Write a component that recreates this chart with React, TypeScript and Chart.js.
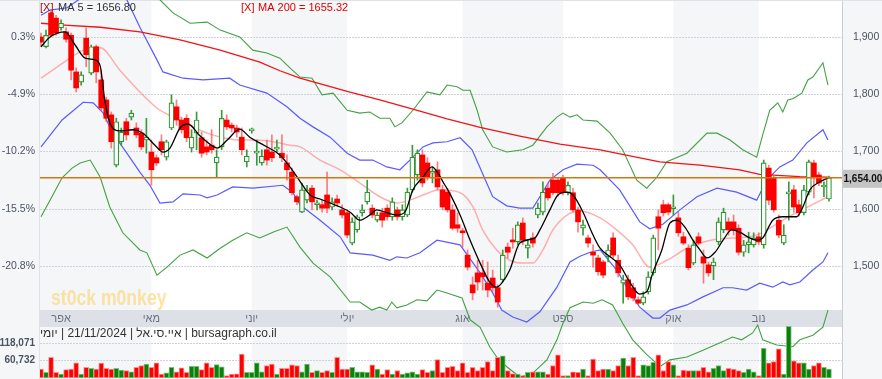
import React, { useEffect, useRef } from 'react';
import { Chart, registerables } from 'chart.js';

Chart.register(...registerables);

const FAMILY = '"Liberation Sans", Arial, Helvetica, sans-serif';

// ---- daily candles (index 0 = first session shown) ----
const opens = [
  1900, 1883, 1942, 1933, 1916, 1909, 1903, 1839, 1821, 1898,
  1837, 1883, 1825, 1790, 1764, 1676, 1717, 1752, 1760, 1741,
  1732, 1720, 1699, 1689, 1717, 1690, 1741, 1778, 1755, 1758,
  1706, 1732, 1724, 1708, 1711, 1680, 1708, 1755, 1746, 1741,
  1725, 1682, 1736, 1697, 1680, 1703, 1699, 1704, 1697, 1680,
  1664, 1621, 1594, 1615, 1636, 1607, 1607, 1624, 1603, 1617,
  1598, 1593, 1540, 1563, 1593, 1612, 1601, 1580, 1593, 1601,
  1586, 1598, 1586, 1589, 1633, 1659, 1694, 1680, 1662, 1668,
  1633, 1629, 1598, 1572, 1559, 1519, 1467, 1488, 1488, 1470,
  1479, 1462, 1476, 1533, 1545, 1542, 1575, 1531, 1549, 1589,
  1594, 1636, 1650, 1650, 1654, 1628, 1628, 1598, 1566, 1549,
  1524, 1514, 1507, 1516, 1549, 1510, 1470, 1476, 1462, 1441,
  1435, 1455, 1488, 1586, 1607, 1607, 1600, 1584, 1551, 1531,
  1505, 1551, 1516, 1502, 1500, 1542, 1563, 1577, 1577, 1566,
  1524, 1537, 1537, 1551, 1537, 1671, 1654, 1580, 1540, 1626,
  1633, 1607, 1593, 1629, 1680, 1659, 1638, 1617,
];
const highs = [
  1907, 1912, 1947, 1938, 1930, 1916, 1907, 1846, 1839, 1916,
  1886, 1886, 1842, 1795, 1769, 1758, 1741, 1758, 1772, 1750,
  1738, 1758, 1720, 1694, 1729, 1720, 1799, 1790, 1760, 1764,
  1738, 1769, 1734, 1720, 1738, 1703, 1772, 1764, 1750, 1746,
  1741, 1703, 1741, 1720, 1703, 1720, 1729, 1720, 1729, 1694,
  1671, 1624, 1645, 1641, 1641, 1615, 1615, 1664, 1619, 1624,
  1607, 1598, 1584, 1589, 1607, 1650, 1607, 1594, 1601, 1607,
  1619, 1603, 1607, 1636, 1711, 1703, 1703, 1689, 1673, 1682,
  1641, 1636, 1607, 1593, 1566, 1528, 1481, 1510, 1510, 1507,
  1493, 1467, 1528, 1540, 1566, 1577, 1584, 1545, 1558, 1610,
  1647, 1645, 1662, 1655, 1659, 1647, 1636, 1603, 1580, 1554,
  1537, 1519, 1510, 1537, 1558, 1519, 1484, 1484, 1470, 1446,
  1455, 1490, 1554, 1598, 1615, 1610, 1624, 1594, 1559, 1537,
  1545, 1558, 1528, 1507, 1514, 1584, 1601, 1584, 1589, 1572,
  1545, 1559, 1558, 1558, 1685, 1676, 1659, 1589, 1572, 1647,
  1641, 1615, 1641, 1685, 1685, 1664, 1647, 1657,
];
const lows = [
  1883, 1881, 1900, 1903, 1912, 1891, 1825, 1804, 1816, 1848,
  1834, 1820, 1772, 1752, 1706, 1673, 1711, 1720, 1755, 1724,
  1703, 1697, 1641, 1675, 1694, 1685, 1738, 1746, 1732, 1717,
  1699, 1703, 1690, 1694, 1697, 1655, 1703, 1738, 1734, 1725,
  1694, 1673, 1732, 1676, 1676, 1676, 1682, 1699, 1682, 1650,
  1624, 1607, 1593, 1610, 1598, 1598, 1594, 1593, 1598, 1605,
  1584, 1549, 1537, 1559, 1587, 1608, 1584, 1577, 1568, 1580,
  1580, 1580, 1580, 1586, 1629, 1650, 1638, 1650, 1645, 1633,
  1598, 1594, 1563, 1559, 1533, 1493, 1441, 1458, 1458, 1446,
  1455, 1428, 1472, 1514, 1531, 1537, 1537, 1514, 1533, 1584,
  1589, 1615, 1624, 1622, 1624, 1624, 1594, 1559, 1554, 1533,
  1498, 1484, 1479, 1507, 1514, 1481, 1435, 1441, 1439, 1432,
  1432, 1451, 1484, 1528, 1587, 1589, 1589, 1552, 1537, 1493,
  1502, 1537, 1470, 1482, 1476, 1537, 1558, 1554, 1554, 1519,
  1517, 1523, 1533, 1537, 1531, 1607, 1594, 1549, 1537, 1580,
  1594, 1587, 1589, 1624, 1619, 1640, 1621, 1613,
];
const closes = [
  1891, 1903, 1903, 1907, 1924, 1896, 1842, 1811, 1834, 1869,
  1883, 1839, 1776, 1758, 1717, 1752, 1734, 1729, 1767, 1729,
  1708, 1725, 1668, 1680, 1703, 1717, 1785, 1755, 1738, 1724,
  1725, 1755, 1697, 1699, 1703, 1690, 1758, 1743, 1741, 1734,
  1703, 1692, 1738, 1699, 1692, 1685, 1689, 1706, 1689, 1668,
  1628, 1612, 1633, 1633, 1612, 1610, 1601, 1601, 1612, 1610,
  1589, 1554, 1577, 1586, 1598, 1629, 1589, 1589, 1580, 1586,
  1612, 1586, 1598, 1629, 1690, 1697, 1645, 1655, 1664, 1638,
  1603, 1598, 1566, 1566, 1558, 1498, 1453, 1472, 1481, 1458,
  1462, 1437, 1519, 1524, 1542, 1572, 1545, 1537, 1540, 1601,
  1629, 1619, 1628, 1628, 1628, 1641, 1598, 1577, 1572, 1540,
  1519, 1490, 1484, 1528, 1519, 1488, 1476, 1446, 1444, 1435,
  1446, 1481, 1549, 1566, 1593, 1594, 1603, 1558, 1540, 1497,
  1537, 1540, 1505, 1488, 1507, 1577, 1594, 1563, 1563, 1524,
  1537, 1542, 1549, 1542, 1680, 1615, 1598, 1554, 1554, 1629,
  1603, 1593, 1633, 1682, 1655, 1645, 1641, 1654,
];
const volumes = [
  30000, 19000, 70000, 19000, 13000, 28000, 30000, 51000, 13000, 36000,
  33000, 30000, 50000, 33000, 30000, 33000, 27000, 25000, 21000, 36000,
  42000, 47000, 36000, 51000, 13000, 17000, 36000, 21000, 34000, 19000,
  39000, 39000, 28000, 51000, 36000, 45000, 38000, 8000, 13000, 14000,
  81000, 19000, 19000, 51000, 21000, 42000, 47000, 13000, 33000, 33000,
  44000, 42000, 21000, 47000, 19000, 25000, 19000, 25000, 19000, 70000,
  30000, 30000, 36000, 21000, 21000, 19000, 44000, 30000, 13000, 28000,
  13000, 25000, 13000, 17000, 21000, 13000, 28000, 19000, 25000, 62000,
  19000, 36000, 39000, 25000, 51000, 19000, 36000, 25000, 36000, 55000,
  25000, 70000, 75000, 25000, 15000, 13000, 8000, 19000, 21000, 21000,
  21000, 13000, 42000, 78000, 8000, 8000, 21000, 19000, 30000, 8000,
  64000, 25000, 30000, 30000, 25000, 42000, 67000, 42000, 70000, 8000,
  44000, 42000, 53000, 78000, 25000, 55000, 44000, 8000, 27000, 25000,
  25000, 25000, 36000, 21000, 33000, 42000, 25000, 33000, 30000, 25000,
  19000, 30000, 21000, 8000, 100000, 51000, 55000, 98000, 13000, 174000,
  58000, 51000, 51000, 30000, 42000, 51000, 36000, 30000,
];

// ---- indicator lines, [session index, price] ----
const ma5Pts = [[0,1883],[1.8,1900],[4.8,1909],[6.8,1886],[8.8,1863],[10.8,1860],[11.8,1849],[12.7,1790],[13.7,1750],[15.7,1736],[18.3,1738],[20.3,1732],[22.7,1711],[24.3,1699],[25.7,1706],[27.7,1741],[29.3,1748],[31.7,1727],[34.1,1710],[35.1,1706],[37.1,1720],[39.6,1739],[41.6,1725],[44.6,1710],[47.6,1694],[49.6,1673],[51.6,1648],[53.6,1624],[55.6,1617],[57.6,1610],[59.6,1603],[61.6,1594],[63.5,1580],[65.5,1589],[66.9,1598],[68.9,1593],[70.9,1589],[72.5,1594],[74.1,1633],[76.1,1655],[77.9,1673],[79.1,1662],[80.1,1647],[81.5,1626],[83.5,1589],[85.5,1545],[87.5,1505],[89.4,1472],[90.8,1463],[91.8,1470],[93.4,1493],[95.4,1540],[98.4,1549],[99.4,1563],[101.4,1598],[103,1624],[104.8,1629],[106,1624],[108,1594],[110,1554],[111.4,1531],[113.4,1516],[115.3,1502],[117.3,1472],[119.3,1451],[120.7,1455],[121.9,1488],[123.7,1528],[125.3,1575],[126.7,1580],[128.3,1568],[129.9,1545],[131.3,1528],[132.7,1514],[134.3,1524],[135.9,1545],[137.6,1563],[139.2,1559],[141.2,1549],[142.6,1545],[143.8,1549],[145.8,1580],[147.8,1586],[150.6,1586],[151.8,1603],[153.2,1633],[155.2,1647],[156.8,1654]];
const ma20Pts = [[0,1828],[1.8,1839],[5.8,1863],[8.4,1877],[11.8,1881],[15.7,1842],[19.7,1804],[23.1,1776],[26.3,1760],[29.7,1746],[33.1,1732],[36.3,1724],[39.6,1720],[43,1720],[46.2,1717],[49.6,1711],[51.6,1708],[55.6,1685],[59.6,1668],[63.5,1645],[67.5,1621],[70.9,1610],[73.5,1615],[76.1,1624],[79.5,1633],[83.5,1628],[86.1,1603],[88,1563],[90.8,1528],[93.4,1510],[96,1505],[98,1505],[100,1528],[102,1563],[104.8,1589],[107.4,1596],[111.4,1584],[114.7,1563],[117.9,1537],[121.3,1498],[124.7,1510],[128.7,1531],[131.3,1540],[134.7,1547],[137.8,1549],[141.2,1551],[143.2,1556],[145.2,1566],[149.2,1587],[153.2,1605],[156.8,1621]];
const ma200Pts = [[0,1924],[3.8,1921],[11.8,1917],[19.7,1909],[27.7,1895],[35.7,1877],[43.6,1856],[47.6,1841],[51.6,1828],[61,1805],[67.5,1790],[74.1,1774],[80.9,1757],[87.5,1742],[95.4,1727],[103.4,1713],[111.4,1703],[123.3,1682],[131.3,1676],[139.2,1668],[143.2,1660],[151.2,1656],[156.8,1655]];
const bandUpPts = [[0,1938],[1.8,1947],[5.2,1951],[8.8,1973],[12.7,1999],[15.7,1982],[17.1,1965],[19.7,1917],[23.1,1860],[24.3,1839],[28.3,1828],[32.3,1825],[37.6,1828],[39.6,1816],[45,1802],[49,1778],[51.6,1758],[54.2,1743],[57.6,1725],[61,1697],[63.5,1685],[66.1,1685],[68.9,1673],[71.5,1668],[73.5,1685],[76.1,1708],[78.1,1715],[80.9,1717],[83.5,1724],[85.9,1703],[87.5,1671],[90,1621],[92.8,1605],[95.4,1601],[98,1601],[99.4,1621],[101.4,1650],[104,1668],[106.8,1678],[110,1676],[111.4,1668],[115.3,1633],[119.3,1577],[121.3,1565],[123.9,1573],[127.3,1598],[130.7,1621],[134.7,1636],[138.6,1629],[142.6,1615],[144.6,1650],[147.2,1673],[149.8,1685],[152.6,1715],[155.8,1738],[156.8,1720]];
const bandLoPts = [[0,1708],[4.2,1755],[8.4,1786],[10.4,1785],[12.4,1767],[14.3,1732],[17.1,1697],[19.7,1664],[21.7,1641],[23.7,1610],[26.3,1612],[28.3,1626],[31.7,1624],[33.1,1619],[35.1,1624],[38.2,1638],[42.2,1636],[48.2,1641],[50.2,1628],[51.6,1607],[55.6,1580],[59.6,1551],[61.6,1523],[66.1,1519],[69.5,1510],[70.9,1516],[72.9,1514],[75.5,1523],[78.9,1545],[83.5,1537],[87.5,1488],[90,1453],[91.8,1423],[94,1411],[96.8,1402],[99.4,1420],[102.8,1463],[105.4,1507],[107.4,1517],[109.4,1524],[111.4,1528],[114.7,1493],[116.7,1463],[119.3,1428],[121.9,1409],[123.3,1409],[125.3,1423],[128.7,1432],[131.9,1446],[135.9,1462],[137.8,1462],[140.6,1458],[143.2,1470],[145.8,1463],[147.8,1472],[149.2,1467],[151.2,1472],[153.8,1493],[155.8,1507],[156.8,1523]];
const outerUpPts = [[0,1991],[7.8,2026],[13.7,2043],[19.7,2008],[23.7,1965],[26.3,1942],[29.7,1924],[33.1,1926],[35.7,1912],[39.6,1900],[42.2,1877],[45,1872],[47.6,1863],[49.6,1846],[51.6,1830],[54,1828],[56,1799],[58.2,1802],[61,1772],[63.5,1767],[65.5,1769],[67.5,1758],[69.5,1758],[70.5,1743],[71.9,1750],[74.1,1772],[76.9,1804],[79.5,1799],[80.9,1816],[82.9,1813],[84.1,1807],[85.5,1807],[86.9,1772],[88,1738],[90,1708],[92.8,1699],[96,1703],[98,1711],[100.8,1743],[102.8,1760],[104,1767],[105.4,1760],[106.8,1764],[108,1755],[110.8,1753],[113.4,1732],[115.9,1703],[118.7,1650],[120.7,1636],[122.7,1655],[124.7,1682],[128.7,1697],[132.7,1732],[134.7,1732],[137.3,1720],[139.8,1703],[142.6,1690],[143.8,1729],[145.2,1772],[146.8,1785],[147.8,1769],[148.8,1790],[149.8,1792],[151.6,1802],[152.8,1825],[153.8,1830],[155.8,1855],[156.8,1816]];
const outerLoPts = [[0,1586],[1.8,1615],[4.2,1654],[6.2,1671],[7.8,1680],[9.8,1685],[11.8,1655],[13.7,1603],[16.3,1558],[19.7,1528],[21.1,1523],[23.1,1484],[25.1,1498],[27.7,1519],[30.3,1528],[33.1,1514],[35.7,1531],[38.2,1545],[41,1558],[43.6,1549],[46.2,1559],[49,1568],[51.6,1533],[54.2,1505],[57.6,1481],[61.6,1437],[63.5,1437],[65.9,1423],[67.5,1428],[68.9,1423],[69.9,1437],[70.9,1427],[72.9,1432],[74.9,1441],[76.9,1439],[78.9,1458],[80.1,1455],[83.9,1444],[85.5,1406],[87.5,1393],[89.4,1359],[90.8,1341],[92.8,1324],[95.4,1306],[98,1313],[100.8,1336],[102.8,1371],[104,1400],[105.4,1427],[108,1437],[110,1435],[111.8,1441],[113.9,1432],[115.9,1400],[117.9,1371],[120.7,1345],[121.9,1336],[123.3,1324],[125.3,1336],[128.7,1341],[131.9,1353],[135.3,1366],[137.8,1376],[139.6,1371],[141.8,1383],[142.8,1397],[143.8,1371],[146.6,1362],[149.8,1359],[151.2,1371],[153.8,1379],[155.8,1393],[156.8,1423]];

// ---- axes / labels ----
const monthStarts = [4, 22, 42, 61, 84, 104, 126, 143];
const monthLabels = ['אפר', 'מאי', 'יוני', 'יולי', 'אוג', 'ספט', 'אוק', 'נוב'];
const priceTicks = [1900, 1800, 1700, 1600, 1500];
const priceTickLabels = ['1,900', '1,800', '1,700', '1,600', '1,500'];
const pctTickLabels = ['0.3%', '-4.9%', '-10.2%', '-15.5%', '-20.8%'];
const volTicks = [118071, 60732];
const volTickLabels = ['118,071', '60,732'];
const legendMA5 = 'MA 5 = 1656.80';
const legendMA200 = 'MA 200 = 1655.32';
// right-to-left info line (read right to left: site | symbol | date | period)
const infoText = 'bursagraph.co.il | איי.סי.אל | 21/11/2024 | יומי';
const watermark = 'st0ck m0nkey';

const X_MIN = -0.2;
const X_MAX = 159.6;
const P_MIN = 1302.6;
const P_MAX = 1964.6;
const V_MIN = -3400;
const V_MAX = 1274900;

const N = closes.length;
const isUp = (i: number) => closes[i] >= opens[i];
const toPts = (arr: number[][]) => arr.map(([x, y]) => ({ x, y }));
const volAsPrice = (v: number) => P_MIN + ((v - V_MIN) / (V_MAX - V_MIN)) * (P_MAX - P_MIN);
const leftTickValues = [...priceTicks, ...volTicks.map(volAsPrice)];
const leftTickLabels = [...pctTickLabels, ...volTickLabels];

const SHADE = '#f5f6f8';

const decor = {
  id: 'decor',
  beforeDraw(chart: any) {
    const { ctx, chartArea: a, scales } = chart;
    const W = chart.width;
    const H = chart.height;
    const xs = scales.x;
    ctx.save();
    ctx.fillStyle = SHADE;
    ctx.fillRect(0, 0, W, H);
    ctx.fillStyle = '#ffffff';
    ctx.fillRect(a.left, a.top, a.right - a.left, a.bottom - a.top);
    const edges = [a.left];
    for (let k = 1; k < monthStarts.length; k++) edges.push(xs.getPixelForValue(monthStarts[k]));
    edges.push(a.right);
    ctx.fillStyle = SHADE;
    for (let k = 0; k < edges.length - 1; k += 2) {
      ctx.fillRect(edges[k], a.top, edges[k + 1] - edges[k], a.bottom - a.top);
    }
    // month strip
    ctx.fillStyle = '#dde1e7';
    ctx.fillRect(a.left, 310, a.right - a.left, 17);
    ctx.fillStyle = '#6b7280';
    ctx.font = `11px ${FAMILY}`;
    ctx.textAlign = 'center';
    ctx.textBaseline = 'middle';
    monthStarts.forEach((m, k) => ctx.fillText(monthLabels[k], xs.getPixelForValue(m), 318.5));
    // dotted grid
    ctx.strokeStyle = '#cfd3d9';
    ctx.lineWidth = 1;
    ctx.setLineDash([2, 1]);
    const gy = [
      ...priceTicks.map((p) => scales.y.getPixelForValue(p)),
      ...volTicks.map((v) => scales.yv.getPixelForValue(v)),
    ];
    gy.forEach((py: number) => {
      const yy = Math.round(py) + 0.5;
      ctx.beginPath();
      ctx.moveTo(a.left, yy);
      ctx.lineTo(a.right, yy);
      ctx.stroke();
    });
    ctx.setLineDash([]);
    // frame lines
    ctx.strokeStyle = '#c9ced6';
    ctx.beginPath();
    ctx.moveTo(a.right + 0.5, 0);
    ctx.lineTo(a.right + 0.5, H);
    ctx.stroke();
    ctx.strokeStyle = '#dfe2e7';
    ctx.beginPath();
    ctx.moveTo(a.left - 0.5, 0);
    ctx.lineTo(a.left - 0.5, H);
    ctx.stroke();
    ctx.beginPath();
    ctx.moveTo(0, 0.5);
    ctx.lineTo(W, 0.5);
    ctx.stroke();
    // watermark
    ctx.save();
    ctx.font = `bold 22px ${FAMILY}`;
    ctx.fillStyle = 'rgba(252, 212, 110, 0.62)';
    ctx.textAlign = 'left';
    ctx.textBaseline = 'alphabetic';
    ctx.translate(51, 305);
    ctx.scale(0.8, 1);
    ctx.fillText(watermark, 0, 0);
    ctx.restore();
    ctx.restore();
  },
  afterDraw(chart: any) {
    const { ctx, chartArea: a, scales } = chart;
    ctx.save();
    ctx.textBaseline = 'middle';
    ctx.textAlign = 'left';
    ctx.font = `11px ${FAMILY}`;
    ctx.fillStyle = '#a01010';
    ctx.fillText('[X]', a.left, 7.5);
    ctx.fillStyle = '#333333';
    ctx.fillText(legendMA5, a.left + 18, 7.5);
    ctx.fillStyle = '#e00000';
    ctx.fillText('[X]', 241, 7.5);
    ctx.fillText(legendMA200, 258, 7.5);
    // info line (right-to-left paragraph, anchored on the left edge)
    ctx.save();
    ctx.direction = 'rtl';
    ctx.textAlign = 'left';
    ctx.font = `12px ${FAMILY}`;
    ctx.fillStyle = '#333333';
    ctx.fillText(infoText, a.left, 333.5);
    ctx.restore();
    // last price box
    const last = closes[N - 1];
    const py = scales.y.getPixelForValue(last);
    ctx.fillStyle = '#c4c4c4';
    ctx.fillRect(a.right + 1, py - 8, chart.width - a.right - 1, 18);
    ctx.fillStyle = '#111111';
    ctx.font = `bold 10px ${FAMILY}`;
    ctx.textAlign = 'left';
    ctx.fillText(last.toLocaleString('en-US', { minimumFractionDigits: 2, maximumFractionDigits: 2 }), a.right + 1.5, py + 1.5);
    ctx.restore();
  },
};

export default function App() {
  const ref = useRef<HTMLCanvasElement | null>(null);
  useEffect(() => {
    if (!ref.current) return;
    Chart.defaults.font.family = FAMILY;
    const idx = closes.map((_, i) => i);
    const last = closes[N - 1];
    const lineBase = { type: 'line', pointRadius: 0, pointHoverRadius: 0, fill: false, tension: 0 };
    const chart = new Chart(ref.current, {
      type: 'line',
      data: {
        datasets: [
          { ...lineBase, label: 'last', data: [{ x: X_MIN, y: last }, { x: X_MAX, y: last }], borderColor: '#d9730d', borderWidth: 1.5, order: 0 },
          { ...lineBase, label: 'MA5', data: toPts(ma5Pts), borderColor: '#000000', borderWidth: 1.3, cubicInterpolationMode: 'monotone', order: 1 },
          {
            type: 'bar', label: 'body',
            data: idx.map((i) => ({ x: i, y: [opens[i], closes[i]] })),
            backgroundColor: (c: any) => (isUp(c.dataIndex) ? '#ffffff' : '#ff0000'),
            borderColor: (c: any) => (isUp(c.dataIndex) ? '#2e962e' : '#ff0000'),
            borderWidth: (c: any) => (isUp(c.dataIndex) ? 1.2 : 0),
            borderSkipped: false, barThickness: 5, minBarLength: 2, grouped: false, order: 2,
          },
          {
            type: 'bar', label: 'wick',
            data: idx.map((i) => ({ x: i, y: [lows[i], highs[i]] })),
            backgroundColor: (c: any) => (isUp(c.dataIndex) ? '#3a9a3a' : 'rgba(255,80,80,0.75)'),
            barThickness: 1, grouped: false, order: 3,
          },
          {
            type: 'bar', label: 'volume', yAxisID: 'yv',
            data: idx.map((i) => ({ x: i, y: volumes[i] })),
            backgroundColor: (c: any) => (isUp(c.dataIndex) ? '#0a820a' : '#ff0000'),
            borderColor: (c: any) => (isUp(c.dataIndex) ? '#7cbf7c' : '#ff9090'),
            borderWidth: 1, borderSkipped: false, barThickness: 5, grouped: false, order: 4,
          },
          { ...lineBase, label: 'MA20', data: toPts(ma20Pts), borderColor: 'rgba(255,150,150,0.75)', borderWidth: 1.5, cubicInterpolationMode: 'monotone', order: 5 },
          { ...lineBase, label: 'MA200', data: toPts(ma200Pts), borderColor: '#f01414', borderWidth: 1.3, order: 6 },
          { ...lineBase, label: 'BBup', data: toPts(bandUpPts), borderColor: '#5a5aff', borderWidth: 1.2, order: 7 },
          { ...lineBase, label: 'BBlo', data: toPts(bandLoPts), borderColor: '#5a5aff', borderWidth: 1.2, order: 7 },
          { ...lineBase, label: 'OUTup', data: toPts(outerUpPts), borderColor: '#45a045', borderWidth: 1.1, order: 8 },
          { ...lineBase, label: 'OUTlo', data: toPts(outerLoPts), borderColor: '#45a045', borderWidth: 1.1, order: 8 },
        ],
      } as any,
      options: {
        responsive: false,
        animation: false,
        events: [],
        layout: { padding: 0 },
        plugins: { legend: { display: false }, tooltip: { enabled: false }, title: { display: false } },
        scales: {
          x: { type: 'linear', display: false, min: X_MIN, max: X_MAX, offset: false },
          y: {
            type: 'linear', position: 'right', min: P_MIN, max: P_MAX,
            grid: { display: false, drawTicks: false, tickLength: 0 }, border: { display: false },
            afterBuildTicks: (s: any) => { s.ticks = priceTicks.map((v) => ({ value: v })); },
            afterFit: (s: any) => { s.width = 40; s.paddingTop = 0; s.paddingBottom = 0; },
            ticks: {
              autoSkip: false, padding: 11, color: '#4a5463',
              font: { size: 10.5, family: FAMILY },
              callback: (_v: any, i: number) => priceTickLabels[i],
            },
          },
          yl: {
            type: 'linear', position: 'left', min: P_MIN, max: P_MAX,
            grid: { display: false, drawTicks: false, tickLength: 0 }, border: { display: false },
            afterBuildTicks: (s: any) => { s.ticks = leftTickValues.map((v) => ({ value: v })); },
            afterFit: (s: any) => { s.width = 40; s.paddingTop = 0; s.paddingBottom = 0; },
            ticks: {
              autoSkip: false, padding: 5, color: '#4a5463',
              font: (c: any) => (c.index >= pctTickLabels.length
                ? { size: 10, weight: 'bold', family: FAMILY }
                : { size: 10.5, family: FAMILY }),
              callback: (_v: any, i: number) => leftTickLabels[i],
            },
          },
          yv: { type: 'linear', display: false, position: 'left', min: V_MIN, max: V_MAX },
        },
      } as any,
      plugins: [decor],
    });
    return () => chart.destroy();
  }, []);
  return (
    <div style={{ position: 'fixed', left: 0, top: 0, width: 882, height: 379 }}>
      <canvas ref={ref} width={882} height={379} />
    </div>
  );
}
